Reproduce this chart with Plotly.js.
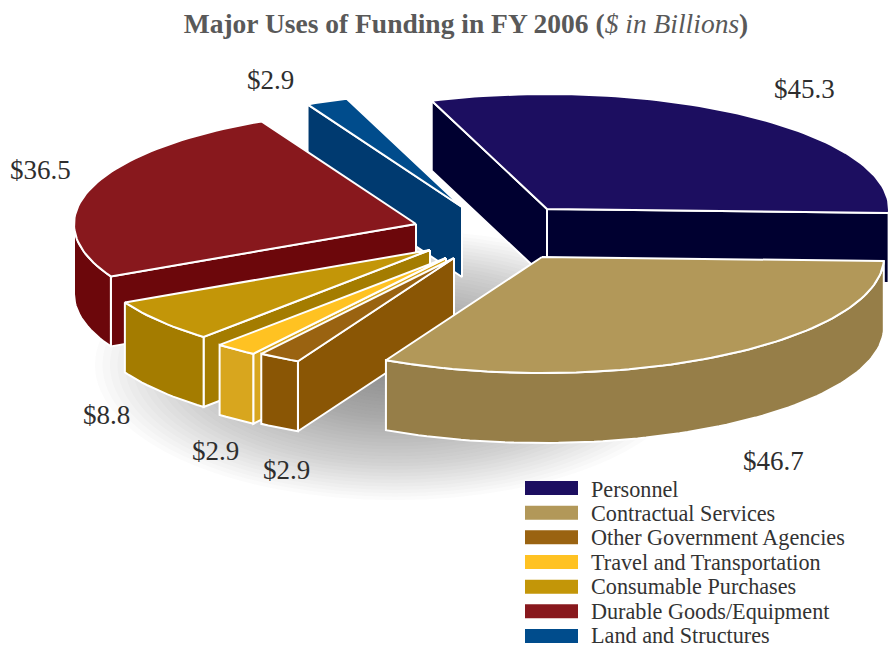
<!DOCTYPE html>
<html>
<head>
<meta charset="utf-8">
<script src="https://cdn.plot.ly/plotly-3.0.1.min.js"></script>
<style>html,body{margin:0;padding:0;background:#fff}#chart{width:889px;height:648px}</style>
</head>
<body>
<div id="chart"></div>
<script>
// ---- data ----
var categories = ["Personnel","Contractual Services","Other Government Agencies","Travel and Transportation","Consumable Purchases","Durable Goods/Equipment","Land and Structures"];
var values = [45.3,46.7,2.9,2.9,8.8,36.5,2.9];
var valueLabels = ["$45.3","$46.7","$2.9","$2.9","$8.8","$36.5","$2.9"];

// ---- styles ----
var topColors = ["#1c0e60","#b29859","#9a6311","#ffc222","#c39608","#88181d","#004c8c"];
var sideColors = ["#000030","#967e48","#8a5605","#d8a61e","#a47c00","#6c070b","#003a70"];

// ---- geometry of the exploded, tilted pie (pixel-like axis units) ----
var apexX = [547,542,454,446,430,416,462];
var apexY = [209,257,258,258,250,224,207];
var labelX = [804.5,773.5,286.5,215.5,106.5,40.5,270.5];
var labelY = [89,461,470,451,415,170,80];
var drawOrder = [6,0,5,4,3,2,1];
var startAngle = 109.7, radiusX = 342, radiusY = 116, backRadiusY = 115, depth = 70;

var total = values.reduce(function(a,b){return a+b;},0);
var angles = [], running = startAngle;
values.forEach(function(v){ var sweep = v/total*360; angles.push([running, running-sweep]); running -= sweep; });

function rimPoint(i,deg){
  var r = deg*Math.PI/180, s = Math.sin(r), c = Math.cos(r);
  return [apexX[i]+radiusX*c, apexY[i]-(s>0 ? backRadiusY : radiusY)*s];
}
function arc(i,a,b){
  var n = Math.max(2,Math.ceil(Math.abs(a-b)/1.5)), out = [];
  for(var k=0;k<=n;k++) out.push(rimPoint(i,a+(b-a)*k/n));
  return out;
}
function poly(i,pts,fill){
  return {type:"scatter",mode:"lines",x:pts.map(function(p){return p[0];}),y:pts.map(function(p){return p[1];}),
    fill:"toself",fillcolor:fill,line:{color:"#ffffff",width:2},
    name:categories[i],showlegend:false,hoverinfo:"name"};
}
function wall(i,a,b){
  var rim = arc(i,a,b), low = rim.slice().reverse().map(function(p){return [p[0],p[1]+depth];});
  return rim.concat(low,[rim[0]]);
}
function cutWall(i,deg){
  var ap=[apexX[i],apexY[i]], e=rimPoint(i,deg);
  return [ap,e,[e[0],e[1]+depth],[ap[0],ap[1]+depth],ap];
}

var traces = [];
drawOrder.forEach(function(i){
  var a = angles[i][0], b = angles[i][1];
  // a radial cut face is seen only when it turns toward the viewer
  if(Math.cos(a*Math.PI/180)<0) traces.push(poly(i,cutWall(i,a),sideColors[i]));
  if(Math.cos(b*Math.PI/180)>0) traces.push(poly(i,cutWall(i,b),sideColors[i]));
  // outer rim wall on the front half of the ellipse only
  var from = Math.min(a,0), to = Math.max(b,-180);
  if(from>to) traces.push(poly(i,wall(i,from,to),sideColors[i]));
  var rim = arc(i,a,b), ap=[apexX[i],apexY[i]];
  traces.push(poly(i,[ap].concat(rim,[ap]),topColors[i]));
});

// soft drop shadow below the pie: many faint concentric ellipses
var shapes = [];
var shadowLayers = 40, shadowX = 395, shadowY = 365, shadowRX = 300, shadowRY = 135;
for(var k=shadowLayers;k>=4;k--){
  var sc = k/shadowLayers;
  shapes.push({type:"circle",layer:"below",xref:"x",yref:"y",
    x0:shadowX-shadowRX*sc,x1:shadowX+shadowRX*sc,y0:shadowY-shadowRY*sc,y1:shadowY+shadowRY*sc,
    fillcolor:"#555a64",opacity:0.022,line:{width:0}});
}

var annotations = [];
valueLabels.forEach(function(t,i){
  annotations.push({text:t,x:labelX[i],y:labelY[i],xref:"x",yref:"y",showarrow:false,xanchor:"center",yanchor:"middle",
    font:{family:"Liberation Serif",size:27,color:"#2e2e2e"}});
});
// legend rows
var legendY0 = 481, legendStep = 24.67;
categories.forEach(function(c,i){
  var y = legendY0 + legendStep*i;
  shapes.push({type:"rect",layer:"above",xref:"x",yref:"y",x0:525,x1:578,y0:y,y1:y+14,fillcolor:topColors[i],line:{width:0}});
  annotations.push({text:c,x:590,y:y+8-i*0.22,xref:"x",yref:"y",showarrow:false,xanchor:"left",yanchor:"middle",borderpad:0,
    font:{family:"Liberation Serif",size:22.2,color:"#333333"}});
});

var layout = {
  width:889,height:648,margin:{l:0,r:0,t:0,b:0},paper_bgcolor:"#ffffff",plot_bgcolor:"#ffffff",showlegend:false,
  title:{text:"<b>Major Uses of Funding in FY 2006 (</b><i>$ in Billions</i><b>)</b>",x:466/889,xanchor:"center",xref:"paper",
    y:1-23.5/648,yref:"paper",yanchor:"middle",font:{family:"Liberation Serif",size:27.5,color:"#595959"}},
  xaxis:{range:[0,889],visible:false,fixedrange:true},
  yaxis:{range:[648,0],visible:false,fixedrange:true},
  shapes:shapes,annotations:annotations
};
Plotly.newPlot("chart",traces,layout,{displayModeBar:false});
</script>
</body>
</html>
